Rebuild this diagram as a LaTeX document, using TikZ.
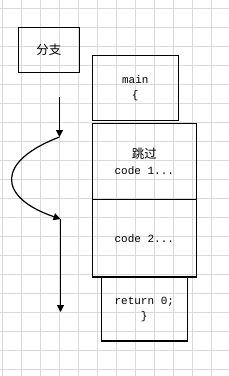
\documentclass[tikz,border=0pt]{standalone}
\usepackage{fontspec}
\setmonofont{Liberation Mono}
\newfontfamily\cjk{Noto Sans CJK SC}
\usetikzlibrary{arrows.meta}
\definecolor{gridgray}{RGB}{217,217,217}

\begin{document}
\begin{tikzpicture}[x=1pt, y=-1pt,
  box/.style={draw, line width=1.2pt, inner sep=0pt, align=center, font=\ttfamily\fontsize{11}{15}\selectfont},
  flow/.style={line width=1.2pt, -{Triangle[width=7pt,length=7pt]}},
  gridline/.style={gridgray, line width=0.8pt}]
  \useasboundingbox (0,0) rectangle (229,376);
  \fill[white] (0,0) rectangle (229,376);

  % background grid, 19px apart
  \foreach \i in {0,...,11} \draw[gridline] ({2.7+19*\i},0) -- ++(0,376);
  \foreach \j in {0,...,19} \draw[gridline] (0,{8.3+19*\j}) -- ++(229,0);

  % Boxes
  \node[box, minimum width=61pt, minimum height=45pt] (branch) at (48.8,49.6) {{\cjk\fontsize{12.5}{15}\selectfont 分支}};
  \node[box, minimum width=86pt, minimum height=65pt] (main) at (135.3,87.8) {main\\\{};
  \node[box, minimum width=104pt, minimum height=76pt] (code1) at (144.3,161.3) {{\cjk\fontsize{12.5}{15}\selectfont 跳过}\\[1pt]code 1...};
  \node[box, minimum width=104pt, minimum height=77.7pt] (code2) at (144.3,238.2) {code 2...};
  \node[box, minimum width=86pt, minimum height=64pt] (ret) at (144.3,309) {return 0;\\\}};

  % Arrow ends
  \coordinate (top) at (59.5,97);
  \coordinate (split) at (59.5,137);
  \coordinate (join) at (60.5,219);
  \coordinate (bottom) at (60.5,312);

  % Arrows
  \draw[flow] (top) -- (split);
  \draw[flow] (split) .. controls (-3.5,161) and (-3.5,197) .. (join);
  \draw[flow] (join) -- (bottom);

\end{tikzpicture}
\end{document}
